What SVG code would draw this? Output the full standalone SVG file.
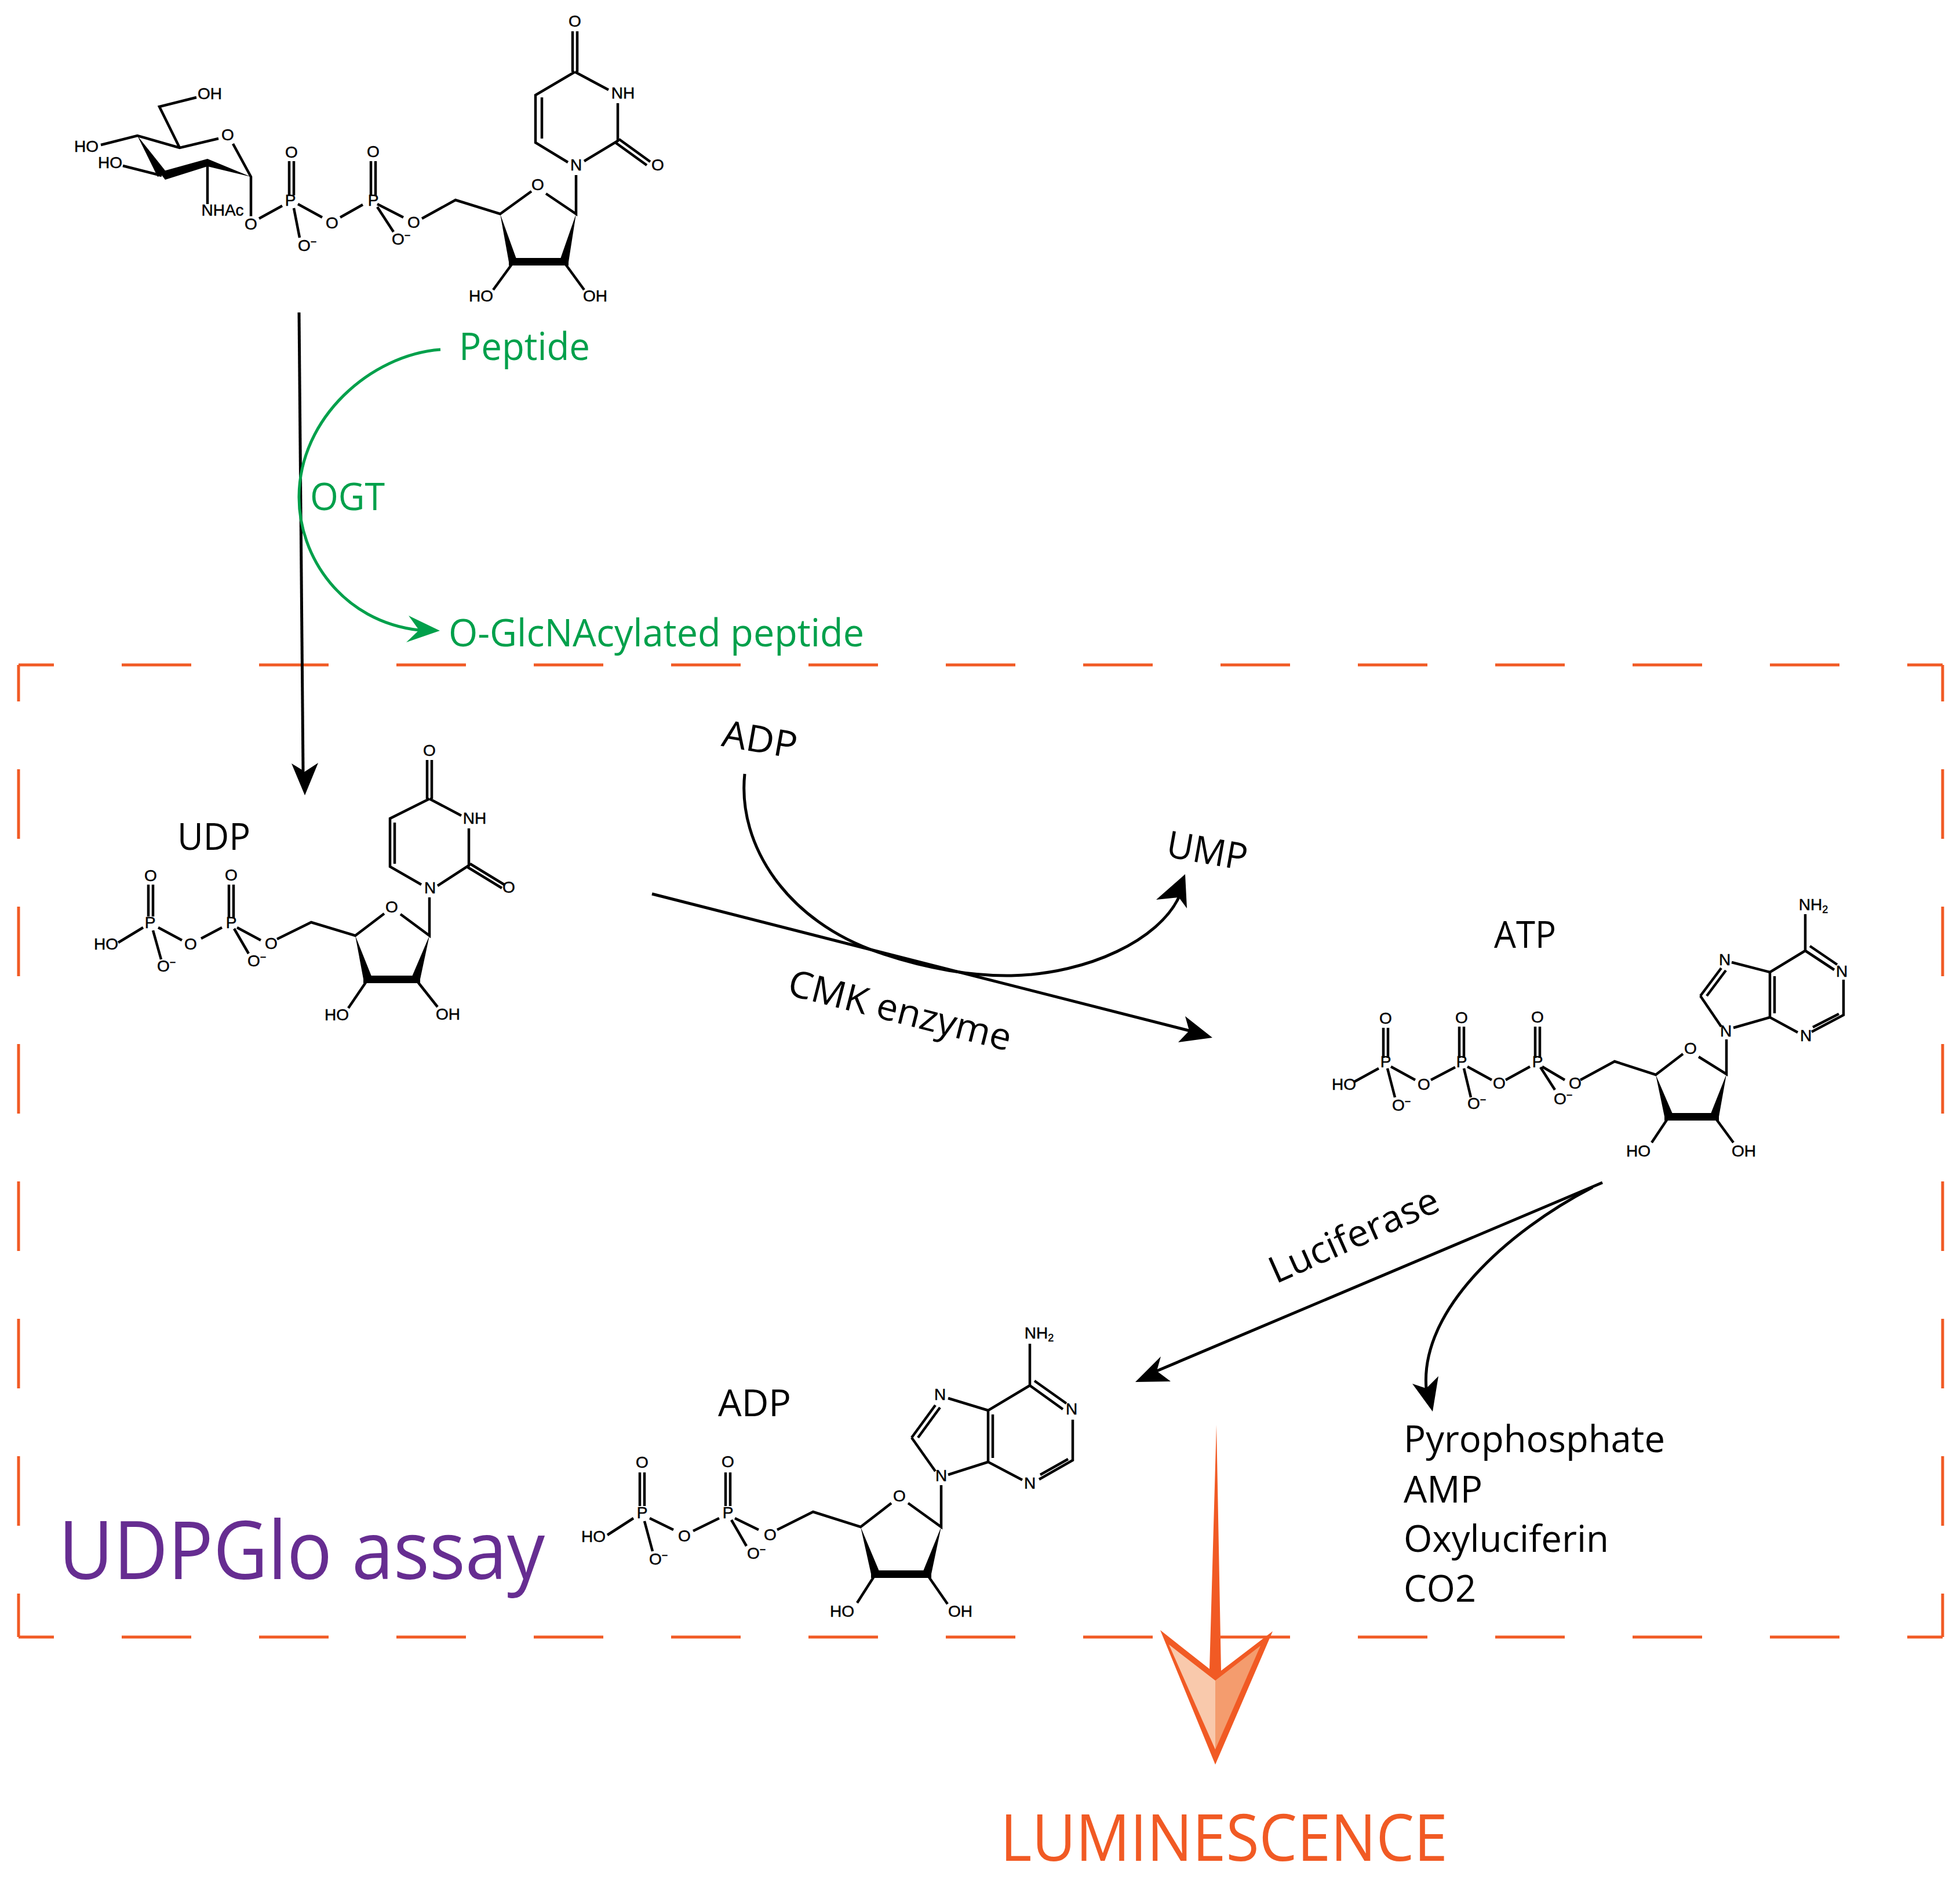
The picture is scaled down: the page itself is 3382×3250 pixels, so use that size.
<svg xmlns="http://www.w3.org/2000/svg" width="3382" height="3250" viewBox="0 0 3382 3250">
<defs><style>
.b{fill:none;stroke:#000;stroke-width:4.5}
.k{fill:#000;stroke:none}
.a{font-family:"Liberation Sans",Arial,sans-serif;font-size:28px;fill:#000;stroke:#000;stroke-width:.5;text-anchor:middle}
.m{font-family:"Liberation Sans",Arial,sans-serif;font-size:28px;fill:#000;stroke:#000;stroke-width:.5;text-anchor:start}
.s{font-size:18px}
.t{font-family:"Open Sans","Noto Sans",sans-serif;font-size:64px;font-weight:400;fill:#000}
.g{font-family:"Open Sans","Noto Sans",sans-serif;font-size:66px;font-weight:400;fill:#00a04b}
.d{fill:none;stroke:#f15a24;stroke-width:5;stroke-dasharray:120 117}
.w{fill:none;stroke:#000;stroke-width:5}
</style></defs>
<rect width="3382" height="3250" fill="#fff"/>

<g id="assay-box">
<path class="d" stroke-dashoffset="59" d="M32,1147H3352"/>
<path class="d" stroke-dashoffset="59" d="M32,2824H3352"/>
<path class="d" stroke-dashoffset="57" d="M32,1147V2824"/>
<path class="d" stroke-dashoffset="57" d="M3352,1147V2824"/>
</g>

<g id="udp-glcnac">
<path class="b" d="M988,54V124M996,54V124M992,124L924,164V246L980,280M935,168V239M992,124L1050,155M1066,178V243L1008,278M1068,240L1122,279M1062,246L1116,285M994,302V369L942,334M917,330L863,369L786,345L728,377M696,375L651,352M640,278V337M648,278V337M651,357L679,400M626,353L587,375M556,375L514,352M499,278V337M507,278V337M507,359L517,410M487,355L447,377M433,373V305L402,248M377,239L310,255L237,234L174,250M310,255L275,184L339,168M279,303L212,286M358,286V352M886,452L851,500M973,452L1008,500"/>
<polygon class="k" points="863,369 878,452 893,452"/>
<polygon class="k" points="994,369 965,452 981,452"/>
<rect class="k" x="878" y="445" width="103" height="13"/>
<polygon class="k" points="237,234 272,305 288,298"/>
<polygon class="k" points="275,297 358,274 433,305 358,287 285,310"/>
<text class="a" x="992" y="46">O</text>
<text class="a" x="1075" y="170">NH</text>
<text class="a" x="994" y="294">N</text>
<text class="a" x="1135" y="294">O</text>
<text class="a" x="928" y="328">O</text>
<text class="a" x="830" y="520">HO</text>
<text class="a" x="1027" y="520">OH</text>
<text class="a" x="714" y="393">O</text>
<text class="a" x="644" y="355">P</text>
<text class="a" x="644" y="271">O</text>
<text class="m" x="676" y="422">O<tspan class="s" dy="-10">−</tspan></text>
<text class="a" x="573" y="394">O</text>
<text class="a" x="501" y="355">P</text>
<text class="a" x="503" y="272">O</text>
<text class="m" x="514" y="433">O<tspan class="s" dy="-10">−</tspan></text>
<text class="a" x="433" y="396">O</text>
<text class="a" x="393" y="242">O</text>
<text class="a" x="149" y="262">HO</text>
<text class="a" x="362" y="171">OH</text>
<text class="a" x="190" y="290">HO</text>
<text class="a" x="384" y="372">NHAc</text>
</g>

<g id="udp" transform="translate(-3,1)">
<path class="b" d="M740,1310V1377M748,1310V1377M744,1377L676,1411V1494L730,1525M684,1418V1489M744,1377L799,1406M812,1428V1492L758,1527M814,1489L873,1525M810,1495L869,1531M744,1547V1613L694,1576M666,1575L616,1613L540,1590L481,1619M453,1621L412,1599M398,1525V1582M406,1525V1582M407,1601L432,1644M386,1599L350,1618M317,1621L276,1599M259,1525V1580M267,1525V1580M267,1604L281,1654M250,1599L207,1625M638,1688L604,1738M720,1688L758,1736"/>
<polygon class="k" points="616,1613 630,1688 646,1688"/>
<polygon class="k" points="744,1613 712,1688 728,1688"/>
<rect class="k" x="630" y="1682" width="98" height="13"/>
<text class="t" x="309" y="1465" textLength="126" lengthAdjust="spacingAndGlyphs">UDP</text>
<text class="a" x="744" y="1303">O</text>
<text class="a" x="822" y="1420">NH</text>
<text class="a" x="745" y="1540">N</text>
<text class="a" x="881" y="1539">O</text>
<text class="a" x="679" y="1573">O</text>
<text class="a" x="584" y="1759">HO</text>
<text class="a" x="776" y="1758">OH</text>
<text class="a" x="471" y="1636">O</text>
<text class="a" x="402" y="1600">P</text>
<text class="a" x="402" y="1518">O</text>
<text class="m" x="430" y="1666">O<tspan class="s" dy="-10">−</tspan></text>
<text class="a" x="332" y="1637">O</text>
<text class="a" x="262" y="1600">P</text>
<text class="a" x="263" y="1519">O</text>
<text class="m" x="274" y="1675">O<tspan class="s" dy="-10">−</tspan></text>
<text class="a" x="186" y="1637">HO</text>
</g>

<g id="atp">
<path class="b" d="M3115,1577V1640M3115,1640L3165,1673M3123,1632L3170,1664M3181,1690V1751L3126,1780M3173,1749L3128,1772M3102,1781L3054,1755V1677L3115,1640M3062,1748V1684M3054,1677L2988,1660M2970,1670L2934,1718M2978,1674L2945,1718M2934,1718L2970,1771M2991,1773L3054,1755M2979,1793V1853L2931,1823M2904,1818L2857,1854L2786,1831L2727,1863M2700,1863L2661,1840M2649,1771V1825M2657,1771V1825M2658,1841L2683,1880M2640,1840L2598,1863M2574,1863L2532,1840M2518,1771V1825M2526,1771V1825M2526,1843L2538,1893M2511,1841L2469,1863M2442,1863L2400,1840M2387,1773V1825M2395,1773V1825M2394,1843L2407,1893M2379,1843L2337,1866M2880,1926L2850,1971M2958,1926L2991,1971"/>
<polygon class="k" points="2857,1854 2872,1926 2888,1926"/>
<polygon class="k" points="2979,1853 2950,1926 2966,1926"/>
<rect class="k" x="2872" y="1920" width="94" height="13"/>
<text class="t" x="2578" y="1635" textLength="107" lengthAdjust="spacingAndGlyphs">ATP</text>
<text class="a" x="3129" y="1570">NH<tspan class="s" dy="5">2</tspan></text>
<text class="a" x="3178" y="1685">N</text>
<text class="a" x="3116" y="1796">N</text>
<text class="a" x="2976" y="1665">N</text>
<text class="a" x="2978" y="1788">N</text>
<text class="a" x="2917" y="1818">O</text>
<text class="a" x="2827" y="1995">HO</text>
<text class="a" x="3009" y="1995">OH</text>
<text class="a" x="2718" y="1878">O</text>
<text class="a" x="2653" y="1841">P</text>
<text class="a" x="2653" y="1764">O</text>
<text class="m" x="2681" y="1905">O<tspan class="s" dy="-10">−</tspan></text>
<text class="a" x="2587" y="1878">O</text>
<text class="a" x="2522" y="1841">P</text>
<text class="a" x="2522" y="1765">O</text>
<text class="m" x="2532" y="1913">O<tspan class="s" dy="-10">−</tspan></text>
<text class="a" x="2457" y="1880">O</text>
<text class="a" x="2391" y="1841">P</text>
<text class="a" x="2391" y="1766">O</text>
<text class="m" x="2402" y="1916">O<tspan class="s" dy="-10">−</tspan></text>
<text class="a" x="2319" y="1880">HO</text>
</g>

<g id="adp">
<path class="b" d="M1777,2318V2390L1834,2431M1785,2382L1840,2421M1851,2449V2519L1793,2552M1843,2517L1795,2544M1764,2553L1705,2522V2433L1777,2390M1713,2515V2440M1705,2433L1636,2412M1614,2424L1573,2480M1622,2428L1584,2480M1573,2480L1614,2538M1636,2544L1705,2522M1624,2562V2634L1567,2593M1538,2593L1485,2634L1403,2608L1341,2639M1309,2639L1268,2619M1252,2540V2598M1260,2540V2598M1262,2622L1288,2667M1241,2619L1196,2641M1162,2639L1121,2619M1104,2540V2598M1112,2540V2598M1112,2624L1126,2676M1093,2619L1048,2648M1511,2715L1479,2765M1599,2715L1635,2767"/>
<polygon class="k" points="1485,2634 1503,2715 1519,2715"/>
<polygon class="k" points="1624,2634 1591,2715 1607,2715"/>
<rect class="k" x="1503" y="2709" width="104" height="13"/>
<text class="t" x="1239" y="2443" textLength="126" lengthAdjust="spacingAndGlyphs">ADP</text>
<text class="a" x="1793" y="2309">NH<tspan class="s" dy="5">2</tspan></text>
<text class="a" x="1849" y="2440">N</text>
<text class="a" x="1777" y="2568">N</text>
<text class="a" x="1622" y="2415">N</text>
<text class="a" x="1624" y="2555">N</text>
<text class="a" x="1552" y="2590">O</text>
<text class="a" x="1453" y="2789">HO</text>
<text class="a" x="1657" y="2789">OH</text>
<text class="a" x="1329" y="2657">O</text>
<text class="a" x="1256" y="2619">P</text>
<text class="a" x="1256" y="2531">O</text>
<text class="m" x="1289" y="2689">O<tspan class="s" dy="-10">−</tspan></text>
<text class="a" x="1181" y="2659">O</text>
<text class="a" x="1108" y="2619">P</text>
<text class="a" x="1108" y="2532">O</text>
<text class="m" x="1120" y="2699">O<tspan class="s" dy="-10">−</tspan></text>
<text class="a" x="1024" y="2660">HO</text>
</g>

<g id="connectors">
<path class="w" d="M516,539L523,1330"/>
<path class="k" d="M526,1372L503,1317L526,1331L549,1316Z"/>
<path fill="none" stroke="#00a04b" stroke-width="5" d="M760,603C640,612 517,720 516,856C515,960 590,1072 723,1087"/>
<path fill="#00a04b" d="M759,1088L705,1062L723,1087L701,1108Z"/>
<path class="w" d="M1125,1542L2056,1779"/>
<path class="k" d="M2092,1790L2045,1753L2052,1778L2033,1798Z"/>
<path class="w" d="M1285,1335C1272,1460 1360,1590 1516,1643C1600,1672 1680,1684 1745,1683C1880,1680 2000,1620 2034,1548"/>
<path class="k" d="M2045,1508L1995,1552L2034,1548L2048,1567Z"/>
<path class="w" d="M2765,2040L1996,2365"/>
<path class="k" d="M1959,2384L2003,2340L1996,2365L2020,2383Z"/>
<path class="w" d="M2748,2048C2600,2125 2450,2260 2461,2395"/>
<path class="k" d="M2472,2435L2437,2387L2461,2395L2482,2374Z"/>
<path fill="#f15a24" d="M2099,2458L2107,2882L2196,2814L2097,3044L2002,2812L2087,2879Z"/>
<path fill="#f9c9ac" d="M2017,2837L2097,2899V3018Z"/>
<path fill="#f49c6e" d="M2175,2839L2097,2899V3018Z"/>
</g>

<g id="labels">
<text class="g" x="792" y="621" textLength="226" lengthAdjust="spacingAndGlyphs">Peptide</text>
<text class="g" x="535" y="880" textLength="129" lengthAdjust="spacingAndGlyphs">OGT</text>
<text class="g" x="774" y="1115" textLength="717" lengthAdjust="spacingAndGlyphs">O-GlcNAcylated peptide</text>
<text class="t" text-anchor="middle" x="1311" y="1298" transform="rotate(10 1311 1276)" textLength="130" lengthAdjust="spacingAndGlyphs">ADP</text>
<text class="t" text-anchor="middle" x="2083" y="1490" transform="rotate(10 2083 1468)" textLength="140" lengthAdjust="spacingAndGlyphs">UMP</text>
<text class="t" text-anchor="middle" x="1553" y="1765" transform="rotate(14.3 1553 1743)" textLength="395" lengthAdjust="spacingAndGlyphs">CMK enzyme</text>
<text class="t" text-anchor="middle" x="2336" y="2153" transform="rotate(-24 2336 2131)" textLength="314" lengthAdjust="spacingAndGlyphs">Luciferase</text>
<text class="t" x="2422" y="2505" textLength="451" lengthAdjust="spacingAndGlyphs">Pyrophosphate</text>
<text class="t" x="2422" y="2592" textLength="136" lengthAdjust="spacingAndGlyphs">AMP</text>
<text class="t" x="2422" y="2677" textLength="354" lengthAdjust="spacingAndGlyphs">Oxyluciferin</text>
<text class="t" x="2422" y="2763" textLength="125" lengthAdjust="spacingAndGlyphs">CO2</text>
<text x="101" y="2724" font-family="'Open Sans','Noto Sans',sans-serif" font-size="140" font-weight="400" fill="#662d91" textLength="839" lengthAdjust="spacingAndGlyphs">UDPGlo assay</text>
<text x="1726" y="3210" font-family="'Open Sans','Noto Sans',sans-serif" font-size="112" font-weight="400" fill="#f15a24" textLength="772" lengthAdjust="spacingAndGlyphs">LUMINESCENCE</text>
</g>
</svg>
